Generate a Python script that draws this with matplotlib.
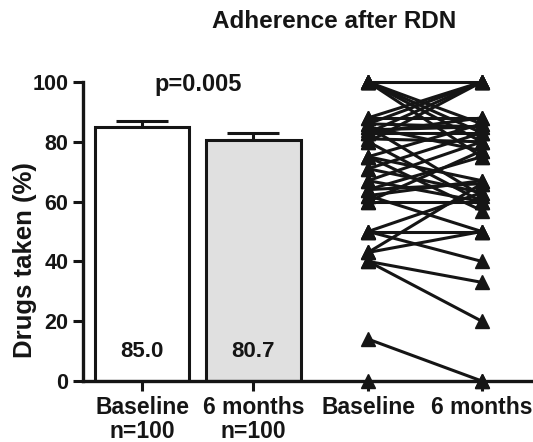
import matplotlib
matplotlib.use("Agg")
import matplotlib.pyplot as plt

plt.rcParams['font.family'] = ['Liberation Sans', 'DejaVu Sans']
plt.rcParams['font.weight'] = 'bold'

# --- data ---
groups = ["Baseline\nn=100", "6 months\nn=100"]
means = [85.0, 80.7]
sems = [2.0, 2.3]
bar_colors = ["white", "#e0e0e0"]
p_text = "p=0.005"

pair_labels = ["Baseline", "6 months"]
baseline = [100, 100, 100, 100, 100, 88, 86, 83, 80, 88, 86, 84, 83, 83,
            81, 85, 75, 75, 71, 71, 67, 67, 64, 64, 62, 62, 60, 60, 50, 50,
            50, 43, 43, 40, 40, 14, 0, 75, 85, 80]
six_months = [100, 83, 80, 75, 86, 100, 100, 100, 100, 88, 85, 85, 83, 88,
              80, 77, 86, 67, 83, 63, 80, 60, 75, 66, 67, 50, 77, 60, 50, 40,
              63, 50, 66, 33, 20, 0, 0, 57, 62, 60]

# --- layout ---
bar_pos = [0, 1]
pair_pos = [2.03, 3.05]
fs = 16.5
ink = "#151515"

fig = plt.figure(figsize=(5.33, 4.42), dpi=100)
ax = fig.add_axes([83 / 533, 1 - 381 / 442, 450 / 533, 299 / 442])

ax.bar(bar_pos, means, width=0.85, color=bar_colors, edgecolor=ink,
       linewidth=2.2, zorder=2)
ax.errorbar(bar_pos, means, yerr=[[0, 0], sems], fmt='none', ecolor=ink,
            elinewidth=2.2, capsize=19, capthick=2.2, zorder=1)
for x, m in zip(bar_pos, means):
    ax.text(x, 10, f"{m:.1f}", ha='center', va='center', fontsize=16,
            fontweight='bold', color=ink, zorder=3)
ax.text(0.5, 99, p_text, ha='center', va='center', fontsize=17,
        fontweight='bold', color=ink)

for b, s in zip(baseline, six_months):
    ax.plot(pair_pos, [b, s], color=ink, linewidth=2.2, marker='^',
            markersize=10, clip_on=False, zorder=4)

ax.set_xlim(-0.53, 3.51)
ax.set_ylim(0, 100)
ax.set_yticks([0, 20, 40, 60, 80, 100])
ax.set_xticks(bar_pos + pair_pos)
ax.set_xticklabels(groups + pair_labels, fontsize=fs, fontweight='bold',
                   va='top', linespacing=1.05)
ax.tick_params(axis='y', labelsize=15.5, width=2.2, length=7, direction='out',
               color=ink, labelcolor=ink)
ax.tick_params(axis='x', width=2.2, length=7, direction='out', color=ink,
               labelcolor=ink, pad=4)
for lab in ax.get_yticklabels():
    lab.set_fontweight('bold')

for side in ['top', 'right']:
    ax.spines[side].set_visible(False)
for side in ['left', 'bottom']:
    ax.spines[side].set_linewidth(2.4)
    ax.spines[side].set_color(ink)

fig.text(25 / 533, 1 - 260 / 442, "Drugs taken (%)", rotation=90,
         ha='center', va='center', fontsize=18.5, fontweight='bold',
         color=ink)
fig.text(334 / 533, 1 - 22 / 442, "Adherence after RDN", ha='center',
         va='center', fontsize=17.5, fontweight='bold', color=ink)

fig.savefig("out.png", dpi=100)
